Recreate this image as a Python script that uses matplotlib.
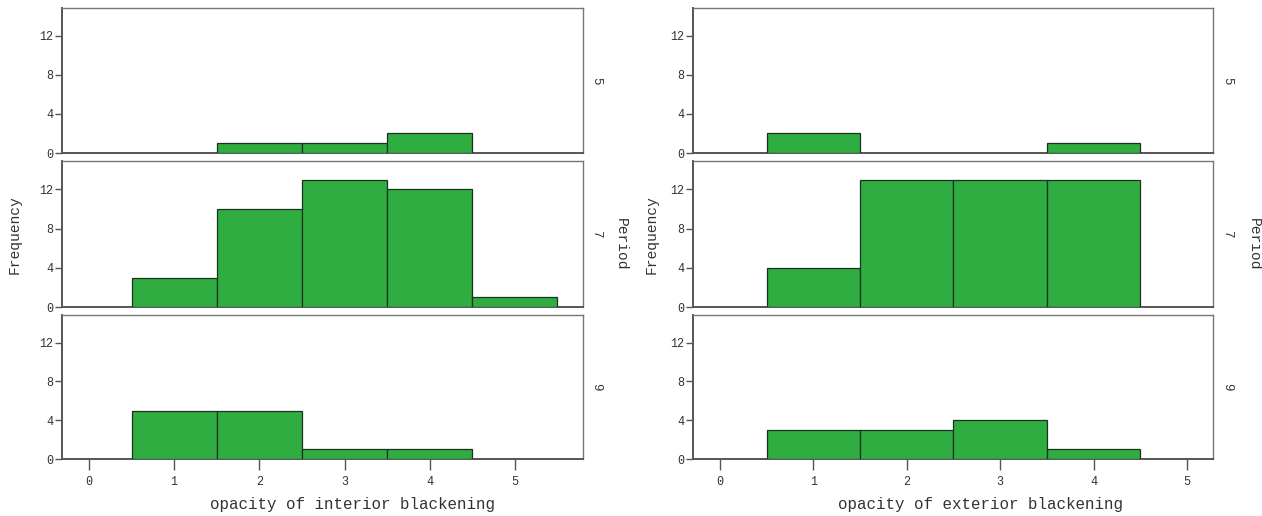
import matplotlib
matplotlib.use("Agg")
import matplotlib.pyplot as plt

# ---- data ----
bins = [1, 2, 3, 4, 5]
periods = ["5", "7", "9"]
interior_p5 = [0, 1, 1, 2, 0]
interior_p7 = [3, 10, 13, 12, 1]
interior_p9 = [5, 5, 1, 1, 0]
exterior_p5 = [2, 0, 0, 1, 0]
exterior_p7 = [4, 13, 13, 13, 0]
exterior_p9 = [3, 3, 4, 1, 0]
xlabels = ["opacity of interior blackening", "opacity of exterior blackening"]
yticks = [0, 4, 8, 12]
xticks = [0, 1, 2, 3, 4, 5]

W, H = 1262, 516
fig = plt.figure(figsize=(W / 100, H / 100), dpi=100)

MONO = "Liberation Mono"
bar_color = "#30ad40"
edge_color = "#1a3320"
spine_color = "#555555"
text_color = "#333333"

cols = [
    dict(x0=62, x1=583, xlim=(-0.317, 5.80), data=[interior_p5, interior_p7, interior_p9],
         label=xlabels[0], label_x=352, freq_x=15, period_x=621, lvl_x=596),
    dict(x0=693, x1=1213, xlim=(-0.29, 5.28), data=[exterior_p5, exterior_p7, exterior_p9],
         label=xlabels[1], label_x=981, freq_x=652, period_x=1254, lvl_x=1227),
]
rows = [(8, 153), (161.5, 307), (315, 459)]

for c in cols:
    for r, (top, bot) in enumerate(rows):
        ax = fig.add_axes([c["x0"] / W, 1 - bot / H, (c["x1"] - c["x0"]) / W, (bot - top) / H])
        vals = c["data"][r]
        xs = [b for b, v in zip(bins, vals) if v > 0]
        hs = [v for v in vals if v > 0]
        ax.bar(xs, hs, width=1.0, color=bar_color, edgecolor=edge_color, linewidth=0.9, zorder=3)
        ax.set_xlim(*c["xlim"])
        ax.set_ylim(0, 14.85)
        ax.set_yticks(yticks)
        ax.set_yticklabels([str(t) for t in yticks], fontsize=8.5, family=MONO, color=text_color)
        ax.tick_params(axis="y", direction="out", length=5, width=1, color=spine_color, pad=1)
        for s in ["top", "right"]:
            ax.spines[s].set_color("#777777")
            ax.spines[s].set_linewidth(1.0)
        for s in ["left", "bottom"]:
            ax.spines[s].set_color(spine_color)
            ax.spines[s].set_linewidth(1.4)
        if r == 2:
            ax.set_xticks(xticks)
            ax.set_xticklabels([str(t) for t in xticks], fontsize=8.5, family=MONO, color=text_color)
            ax.tick_params(axis="x", direction="out", length=8, width=1, color=spine_color, pad=4)
        else:
            ax.set_xticks([])
        # period level label on the right
        fig.text(c["lvl_x"] / W, 1 - (top + bot) / 2 / H, periods[r], rotation=270,
                 ha="center", va="center", fontsize=9, family=MONO, color=text_color)
    fig.text(c["label_x"] / W, 1 - 505 / H, c["label"], ha="center", va="center",
             fontsize=11.4, family=MONO, color=text_color)
    mid = (rows[1][0] + rows[1][1]) / 2
    fig.text(c["freq_x"] / W, 1 - mid / H, "Frequency", rotation=90, ha="center", va="center",
             fontsize=10.5, family=MONO, color=text_color)
    fig.text(c["period_x"] / W, 1 - (mid + 10) / H, "Period", rotation=270, ha="center", va="center",
             fontsize=10.5, family=MONO, color=text_color)

fig.savefig("out.png", dpi=100)
